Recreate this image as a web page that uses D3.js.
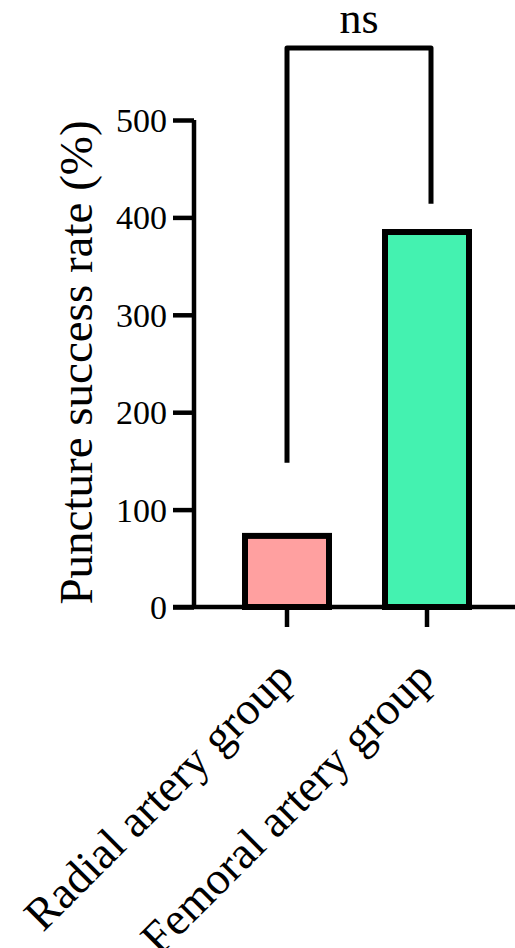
<!DOCTYPE html>
<html><head><meta charset="utf-8">
<script src="https://cdn.jsdelivr.net/npm/d3@7"></script>
<style>body{margin:0;background:#fff}svg{display:block}text{font-family:"Liberation Serif","Times New Roman",serif;fill:#000}</style>
</head><body>
<svg id="c" width="515" height="948"></svg>
<script>
const categories = ["Radial artery group", "Femoral artery group"];
const values = [73, 385];
const colors = ["#FFA0A0", "#44F2B0"];
const yTicks = [0, 100, 200, 300, 400, 500];
const bracketLevel = 574;
const bracketLegEnds = [148, 414];
const sigLabel = "ns";
const yTitle = "Puncture success rate (%)";

const svg = d3.select("#c");
const y = d3.scaleLinear().domain([0, 500]).range([607, 120]);
const x = d3.scaleBand().domain(categories).range([217, 497]).paddingInner(0.4).paddingOuter(0.2);

// bars
svg.selectAll("rect.bar").data(values).join("rect")
  .attr("class","bar")
  .attr("x",(d,i)=>x(categories[i]))
  .attr("width",x.bandwidth())
  .attr("y",d=>y(d))
  .attr("height",d=>y(0)-y(d))
  .attr("fill",(d,i)=>colors[i])
  .attr("stroke","#000").attr("stroke-width",6);

// y axis
const yAxis = svg.append("g").attr("transform","translate(194,0)")
  .call(d3.axisLeft(y).tickValues(yTicks).tickSize(21).tickPadding(6).tickFormat(d3.format("d")));
yAxis.select(".domain").attr("stroke","#000").attr("stroke-width",4.5).attr("d","M0,"+y(500)+"V"+y(0));
yAxis.selectAll(".tick line").attr("stroke","#000").attr("stroke-width",4.5);
yAxis.selectAll(".tick text").style("font-size","34px").attr("dy","0.34em");

// x axis
const xAxis = svg.append("g").attr("transform","translate(0,"+y(0)+")")
  .call(d3.axisBottom(x).tickSize(20).tickPadding(8));
xAxis.select(".domain").attr("stroke","#000").attr("stroke-width",4.5).attr("d","M173,0H515");
xAxis.selectAll(".tick line").attr("stroke","#000").attr("stroke-width",4.5);
xAxis.selectAll(".tick text")
  .style("font-size","46px")
  .attr("text-anchor","end")
  .attr("x",0).attr("y",0).attr("dy","0")
  .attr("transform","translate(9,73) rotate(-45)");

// y title
svg.append("text")
  .attr("transform","translate(92,"+((y(0)+y(500))/2-1)+") rotate(-90)")
  .attr("text-anchor","middle")
  .style("font-size","47px")
  .text(yTitle);

// significance bracket
const bx = categories.map(c=>x(c)+x.bandwidth()/2);
bx[1] += 4;
svg.append("path")
  .attr("d","M"+bx[0]+","+y(bracketLegEnds[0])+"V"+y(bracketLevel)+"H"+bx[1]+"V"+y(bracketLegEnds[1]))
  .attr("fill","none").attr("stroke","#000").attr("stroke-width",5).attr("stroke-linejoin","round");
svg.append("text")
  .attr("x",(bx[0]+bx[1])/2).attr("y",33)
  .attr("text-anchor","middle")
  .style("font-size","44px")
  .text(sigLabel);
</script>
</body></html>
